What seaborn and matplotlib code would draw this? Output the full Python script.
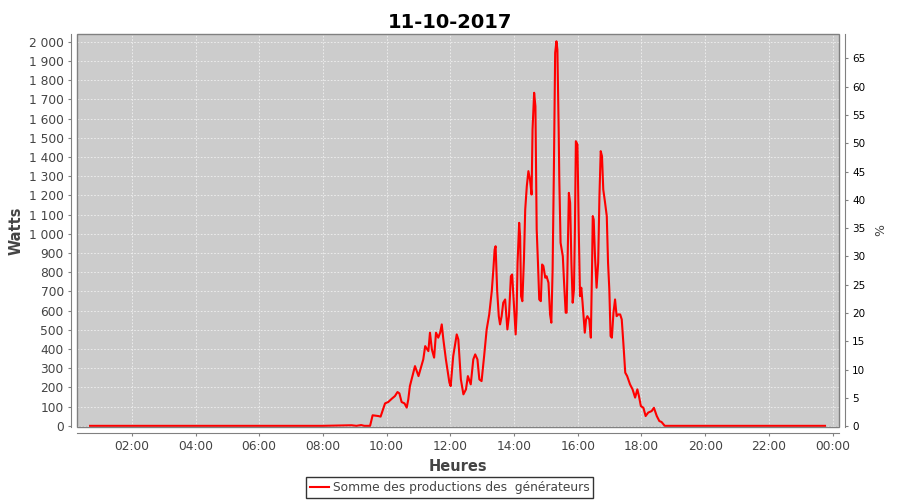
import matplotlib
matplotlib.use("Agg")
import matplotlib.pyplot as plt
from matplotlib.patches import Rectangle
from matplotlib.ticker import FuncFormatter
import seaborn as sns
import pandas as pd

# heures (decimal) et puissance (W)
heures = [0.69, 2.0, 4.0, 6.0, 8.0, 8.9, 9.05, 9.2, 9.3, 9.48,
          9.56, 9.74, 9.81, 9.95, 10.05, 10.16, 10.26, 10.34, 10.40, 10.47,
          10.56, 10.63, 10.68, 10.73, 10.89, 11.00, 11.15, 11.21, 11.31, 11.36,
          11.42, 11.49, 11.55, 11.62, 11.68, 11.73, 11.78, 11.86, 11.97, 12.01,
          12.09, 12.20, 12.25, 12.33, 12.41, 12.49, 12.55, 12.64, 12.72, 12.78,
          12.85, 12.91, 12.98, 13.06, 13.14, 13.22, 13.30, 13.35, 13.39, 13.42,
          13.47, 13.52, 13.56, 13.61, 13.66, 13.72, 13.75, 13.79, 13.84, 13.90,
          13.94, 13.98, 14.02, 14.05, 14.08, 14.11, 14.16, 14.19, 14.22, 14.26,
          14.31, 14.35, 14.40, 14.45, 14.50, 14.55, 14.58, 14.63, 14.67, 14.71,
          14.75, 14.79, 14.84, 14.88, 14.92, 14.98, 15.02, 15.08, 15.13, 15.17,
          15.21, 15.25, 15.29, 15.33, 15.36, 15.40, 15.42, 15.46, 15.53, 15.57,
          15.62, 15.65, 15.68, 15.72, 15.76, 15.80, 15.84, 15.88, 15.91, 15.94,
          15.99, 16.03, 16.07, 16.11, 16.15, 16.22, 16.26, 16.30, 16.36, 16.41,
          16.45, 16.47, 16.50, 16.54, 16.59, 16.64, 16.68, 16.72, 16.76, 16.80,
          16.85, 16.91, 16.95, 16.99, 17.03, 17.07, 17.12, 17.17, 17.22, 17.27,
          17.33, 17.38, 17.43, 17.49, 17.55, 17.64, 17.72, 17.80, 17.87, 17.92,
          17.98, 18.06, 18.13, 18.21, 18.32, 18.39, 18.48, 18.56, 18.63, 18.73,
          20.0, 22.0, 23.76]
watts = [0, 0, 0, 0, 0, 3, 0, 4, 0, 0,
         55, 51, 48, 117, 124, 141, 155, 176, 169, 124,
         117, 95, 138, 207, 311, 259, 346, 415, 389, 485,
         398, 355, 485, 459, 485, 528, 450, 346, 225, 207,
         363, 476, 450, 242, 164, 190, 259, 216, 346, 372,
         346, 242, 233, 363, 502, 580, 701, 814, 918, 935,
         701, 571, 528, 571, 641, 658, 589, 502, 571, 779,
         788, 675, 571, 476, 589, 849, 1057, 988, 675, 649,
         866, 1126, 1248, 1326, 1282, 1204, 1543, 1734, 1664, 1022,
         849, 658, 649, 840, 832, 771, 779, 745, 580, 537,
         814, 1334, 1942, 2002, 1959, 1543, 1282, 953, 883, 745,
         589, 589, 849, 1213, 1161, 849, 641, 710, 1022, 1482,
         1465, 1022, 675, 719, 641, 485, 554, 571, 554, 459,
         849, 1092, 1074, 883, 719, 849, 1196, 1430, 1404, 1230,
         1170, 1092, 849, 710, 467, 459, 589, 658, 571, 580,
         580, 554, 433, 277, 259, 216, 190, 147, 190, 155,
         103, 94, 51, 69, 77, 94, 51, 25, 20, 0,
         0, 0, 0]

x_ticks = [2, 4, 6, 8, 10, 12, 14, 16, 18, 20, 22, 24]
x_labels = ["02:00", "04:00", "06:00", "08:00", "10:00", "12:00",
            "14:00", "16:00", "18:00", "20:00", "22:00", "00:00"]
serie = "Somme des productions des  générateurs"

df = pd.DataFrame({"Heures": heures, "Watts": watts})

tick_col = "#444444"
axis_col = "#808080"

fig = plt.figure(figsize=(9, 5), dpi=100)
ax = fig.add_axes([77 / 900, 1 - 427 / 500, 762 / 900, 393 / 500])
ax.set_facecolor("#cccccc")

sns.lineplot(data=df, x="Heures", y="Watts", ax=ax, color="red", linewidth=1.5,
             label=serie)
ax.legend_.remove()

ax.set_xlim(0.28, 24.2)
ax.set_ylim(-6, 2040)
ax.set_xticks(x_ticks)
ax.set_xticklabels(x_labels)
ax.set_yticks(range(0, 2001, 100))
ax.yaxis.set_major_formatter(FuncFormatter(lambda v, p: f"{int(v):,}".replace(",", " ")))
ax.grid(True, color="#f0f0f0", linestyle=(0, (2, 2)), linewidth=0.6)
ax.set_axisbelow(True)

for s in ["top", "right"]:
    ax.spines[s].set_visible(False)
for s in ["left", "bottom"]:
    ax.spines[s].set_position(("outward", 4))
    ax.spines[s].set_color(axis_col)
ax.add_patch(Rectangle((0, 0), 1, 1, transform=ax.transAxes, fill=False,
                       edgecolor=axis_col, linewidth=1.0, clip_on=False, zorder=5))
ax.tick_params(colors=axis_col, labelcolor=tick_col, labelsize=8.8, length=2)

ax.set_xlabel("Heures", fontsize=10.5, fontweight="bold", color=tick_col, labelpad=4)
ax.set_ylabel("Watts", fontsize=10.5, fontweight="bold", color=tick_col, labelpad=4)

ax2 = ax.twinx()
ax2.set_ylim(-0.15, 69.3)
ax2.set_yticks(range(0, 66, 5))
for s in ["top", "left", "bottom"]:
    ax2.spines[s].set_visible(False)
ax2.spines["right"].set_position(("outward", 4))
ax2.spines["right"].set_color(axis_col)
ax2.tick_params(colors=axis_col, labelcolor="black", labelsize=7.5, length=2)
ax2.set_ylabel("%", fontsize=9, color=tick_col, labelpad=6)

fig.suptitle("11-10-2017", fontsize=14, fontweight="bold", y=0.975)

handles, labels = ax.get_legend_handles_labels()
fig.legend(handles, labels, loc="center", bbox_to_anchor=(449.5 / 900, 1 - 487.5 / 500),
           frameon=True, fancybox=False, edgecolor="black", fontsize=8.8,
           handlelength=1.6, handletextpad=0.3, borderpad=0.3, labelcolor=tick_col)

fig.savefig("out.png", dpi=100)
